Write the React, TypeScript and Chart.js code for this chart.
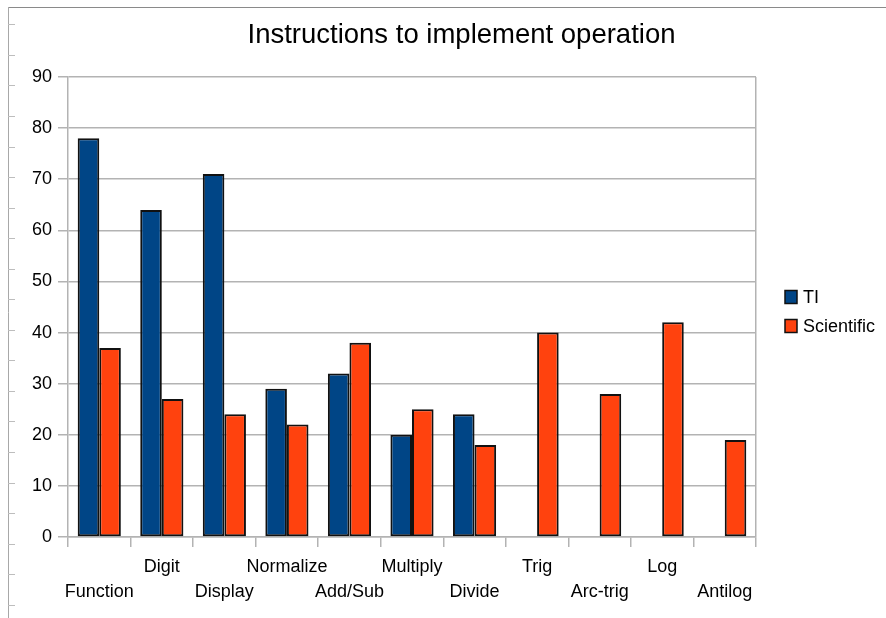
import React, { useEffect, useRef } from "react";
import { Chart, registerables } from "chart.js";

Chart.register(...registerables);

const chartTitle = "Instructions to implement operation";
const categories = [
  "Function",
  "Digit",
  "Display",
  "Normalize",
  "Add/Sub",
  "Multiply",
  "Divide",
  "Trig",
  "Arc-trig",
  "Log",
  "Antilog",
];
const seriesNames = ["TI", "Scientific"];
const tiValues = [78, 64, 71, 29, 32, 20, 24, null, null, null, null];
const scientificValues = [37, 27, 24, 22, 38, 25, 18, 40, 28, 42, 19];
const yMin = 0;
const yMax = 90;
const yStep = 10;

const seriesColors = ["#004586", "#ff420e"];
const FONT = "'Liberation Sans', Arial, sans-serif";
const GRID = "#b3b3b3";

const decorPlugin = {
  id: "decor",
  afterDraw(chart: any) {
    const ctx = chart.ctx as CanvasRenderingContext2D;
    ctx.save();
    // page frame and ruler marks
    ctx.lineWidth = 1;
    ctx.strokeStyle = "#8a8a8a";
    ctx.beginPath();
    ctx.moveTo(8, 7.5);
    ctx.lineTo(886, 7.5);
    ctx.stroke();
    ctx.strokeStyle = "#a8a8a8";
    ctx.beginPath();
    ctx.moveTo(8.5, 7);
    ctx.lineTo(8.5, 618);
    ctx.stroke();
    ctx.strokeStyle = "#bdbdbd";
    for (let y = 24.3; y < 618; y += 30.55) {
      const yy = Math.round(y) + 0.5;
      ctx.beginPath();
      ctx.moveTo(8, yy);
      ctx.lineTo(15, yy);
      ctx.stroke();
    }
    // title
    ctx.fillStyle = "#000";
    ctx.font = `27.5px ${FONT}`;
    ctx.textAlign = "center";
    ctx.textBaseline = "alphabetic";
    ctx.fillText(chartTitle, 461.5, 43);
    // legend
    chart.data.datasets.forEach((ds: any, i: number) => {
      const cy = 297 + i * 29;
      ctx.fillStyle = ds.backgroundColor;
      ctx.fillRect(785, cy - 6.5, 12, 13);
      ctx.strokeStyle = "#111";
      ctx.lineWidth = 1.5;
      ctx.strokeRect(785, cy - 6.5, 12, 13);
      ctx.fillStyle = "#000";
      ctx.font = `18px ${FONT}`;
      ctx.textAlign = "left";
      ctx.textBaseline = "middle";
      ctx.fillText(ds.label, 803, cy + 1);
    });
    ctx.restore();
  },
};

export default function App() {
  const ref = useRef<HTMLCanvasElement | null>(null);

  useEffect(() => {
    if (!ref.current) return;
    const chart = new Chart(ref.current, {
      type: "bar",
      data: {
        labels: categories,
        datasets: [
          {
            label: seriesNames[0],
            data: tiValues,
            backgroundColor: seriesColors[0],
            borderColor: "#111",
            borderWidth: 2,
            borderSkipped: false,
          },
          {
            label: seriesNames[1],
            data: scientificValues,
            backgroundColor: seriesColors[1],
            borderColor: "#111",
            borderWidth: 2,
            borderSkipped: false,
          },
        ],
      },
      options: {
        responsive: false,
        animation: false,
        layout: { padding: { left: 0, right: 130, top: 77, bottom: 0 } },
        datasets: {
          bar: { categoryPercentage: 0.69, barPercentage: 1 },
        },
        plugins: {
          legend: { display: false },
          title: { display: false },
          tooltip: { enabled: false },
        },
        scales: {
          x: {
            offset: true,
            afterFit: (s: any) => {
              s.height = 81;
            },
            grid: {
              offset: true,
              drawOnChartArea: true,
              color: (c: any) => (c.type === "tick" ? "rgba(0,0,0,0)" : GRID),
              tickColor: GRID,
              tickLength: 10,
              lineWidth: 1.5,
            },
            border: { color: GRID, width: 1.5 },
            ticks: {
              autoSkip: false,
              maxRotation: 0,
              minRotation: 0,
              padding: 8,
              color: "#000",
              font: { family: FONT, size: 18, lineHeight: 1.36 },
              callback: (_v: any, i: number) =>
                i % 2 === 0 ? ["", categories[i]] : [categories[i]],
            },
          },
          y: {
            min: yMin,
            max: yMax,
            afterFit: (s: any) => {
              s.width = 68;
            },
            grid: {
              color: GRID,
              tickColor: GRID,
              tickLength: 10,
              lineWidth: 1.5,
            },
            border: { color: GRID, width: 1.5 },
            ticks: {
              stepSize: yStep,
              padding: 6,
              color: "#000",
              font: { family: FONT, size: 18 },
            },
          },
        },
      },
      plugins: [decorPlugin],
    });
    return () => chart.destroy();
  }, []);

  return (
    <div
      style={{
        position: "fixed",
        left: 0,
        top: 0,
        width: 886,
        height: 618,
        background: "#fff",
      }}
    >
      <canvas ref={ref} width={886} height={618} />
    </div>
  );
}
